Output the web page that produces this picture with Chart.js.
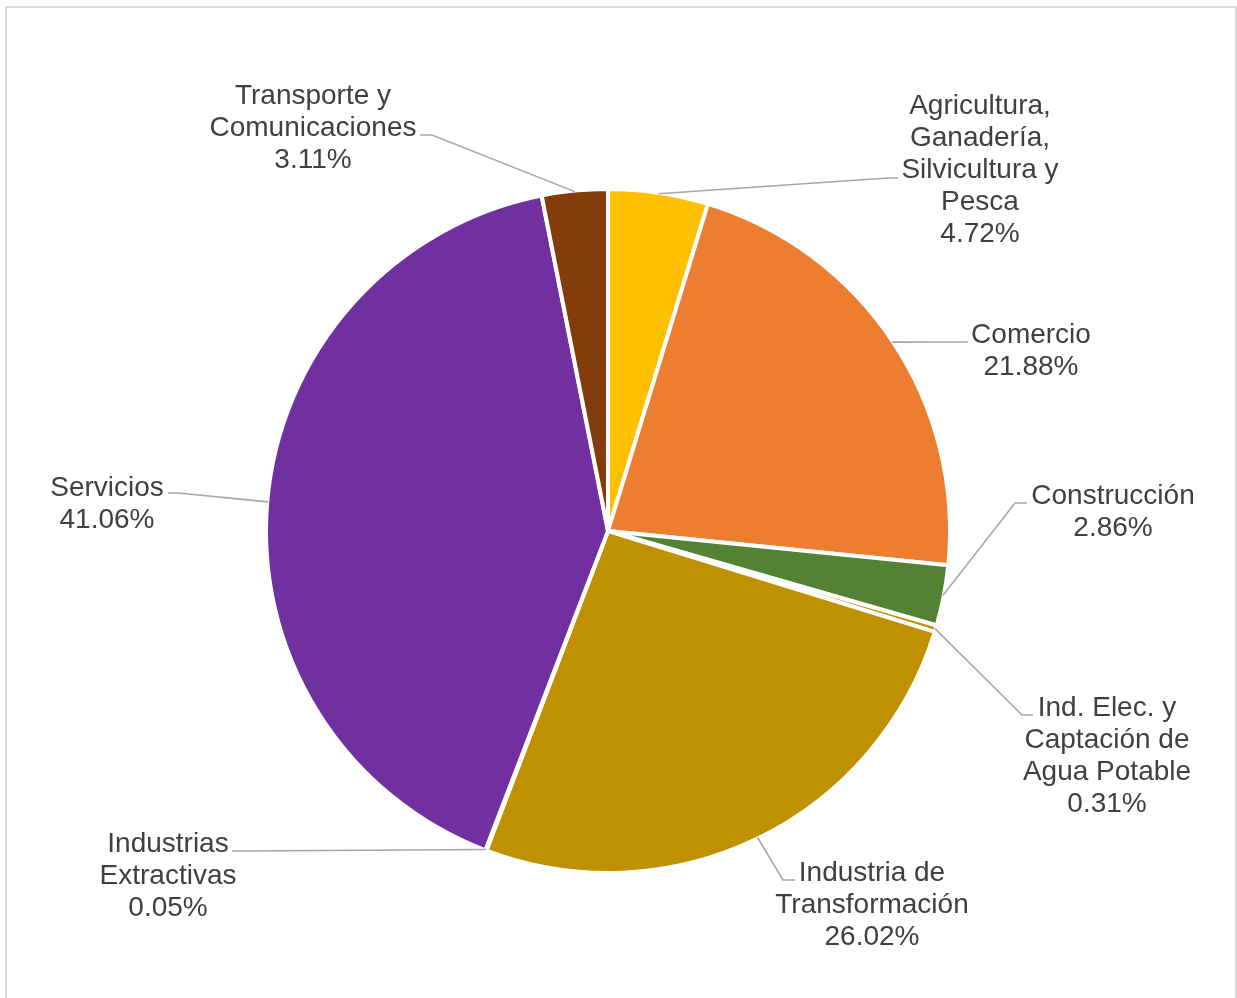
<!DOCTYPE html>
<html>
<head>
<meta charset="utf-8">
<script src="https://cdn.jsdelivr.net/npm/chart.js@4.4.0/dist/chart.umd.min.js"></script>
<style>
  html, body { margin: 0; padding: 0; background: #fff; overflow: hidden; }
  #wrap { position: relative; width: 1237px; height: 998px; }
  #frame { position: absolute; left: 5px; top: 6px; width: 1232px; height: 1000px;
           border: 2px solid #d9d9d9; box-sizing: border-box; pointer-events: none; }
  canvas { position: absolute; left: 0; top: 0; }
</style>
</head>
<body>
<div id="wrap">
  <canvas id="grafico" width="1237" height="998"></canvas>
  <div id="frame"></div>
</div>
<script>
// categorie (una riga per elemento)
var sectores = [
  ["Agricultura,", "Ganadería,", "Silvicultura y", "Pesca"],
  ["Comercio"],
  ["Construcción"],
  ["Ind. Elec. y", "Captación de", "Agua Potable"],
  ["Industria de", "Transformación"],
  ["Industrias", "Extractivas"],
  ["Servicios"],
  ["Transporte y", "Comunicaciones"]
];
// percentuali
var porcentajes = [4.72, 21.88, 2.86, 0.31, 26.02, 0.05, 41.06, 3.11];
// colori fette
var colores = ["#FFC000", "#ED7D31", "#548235", "#BF9000", "#BF9000", "#A5A5A5", "#7030A0", "#843C0C"];

// posizione etichette: centro testo, prima riga, gomito e fine del tratto orizzontale
var etichette = [
  { x: 980,  y: 104, ex: 888,  ey: 178, sx: 898 },
  { x: 1031, y: 333, ex: 958,  ey: 342, sx: 968 },
  { x: 1113, y: 494, ex: 1015, ey: 503, sx: 1027 },
  { x: 1107, y: 706, ex: 1022, ey: 715, sx: 1033 },
  { x: 872,  y: 871, ex: 783,  ey: 880, sx: 795 },
  { x: 168,  y: 842, ex: 242,  ey: 851, sx: 232 },
  { x: 107,  y: 486, ex: 178,  ey: 493, sx: 168 },
  { x: 313,  y: 94,  ex: 432,  ey: 135, sx: 420 }
];

var lineH = 32;

// plugin per etichette esterne con linee guida
var etichettePlugin = {
  id: 'etichette',
  afterDatasetsDraw: function(chart) {
    var ctx = chart.ctx;
    var meta = chart.getDatasetMeta(0);
    ctx.save();
    for (let i = 0; i < meta.data.length; i++) {
      var arc = meta.data[i];
      var p = etichette[i];
      var mid = (arc.startAngle + arc.endAngle) / 2;
      var ax = arc.x + Math.cos(mid) * (arc.outerRadius - 1);
      var ay = arc.y + Math.sin(mid) * (arc.outerRadius - 1);

      ctx.strokeStyle = "#a6a6a6";
      ctx.lineWidth = 1.6;
      ctx.beginPath();
      ctx.moveTo(ax, ay);
      ctx.lineTo(p.ex, p.ey);
      ctx.lineTo(p.sx, p.ey);
      ctx.stroke();

      var righe = sectores[i].concat([porcentajes[i].toFixed(2) + "%"]);
      ctx.fillStyle = "#404040";
      ctx.font = "28px 'Liberation Sans', Arial, sans-serif";
      ctx.textAlign = "center";
      ctx.textBaseline = "alphabetic";
      for (let j = 0; j < righe.length; j++) {
        ctx.fillText(righe[j], p.x, p.y + 10 + j * lineH);
      }
    }
    ctx.restore();
  }
};

window.onload = function() {
  new Chart(document.getElementById("grafico"), {
    type: 'pie',
    data: {
      labels: sectores,
      datasets: [{
        data: porcentajes,
        backgroundColor: colores,
        borderColor: "#ffffff",
        borderWidth: 4
      }]
    },
    options: {
      responsive: false,
      animation: false,
      radius: 342,
      layout: { padding: { left: 263, right: 284, top: 186, bottom: 122 } },
      plugins: {
        legend: { display: false },
        tooltip: { enabled: false }
      }
    },
    plugins: [etichettePlugin]
  });
};
</script>
</body>
</html>
